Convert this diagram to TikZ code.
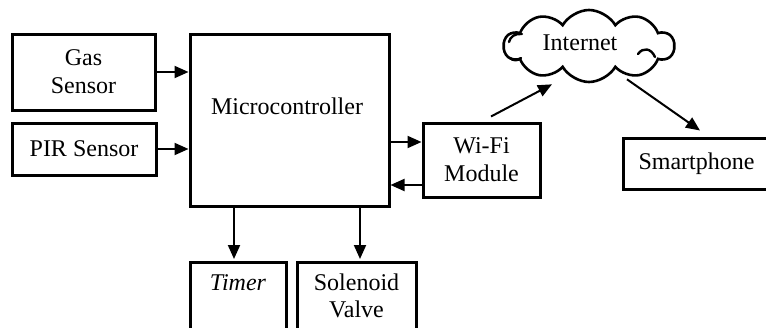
\documentclass[tikz,border=0pt]{standalone}
\usepackage{fontspec}
\setmainfont{Liberation Serif}
\usetikzlibrary{arrows.meta,shapes.symbols}
\begin{document}
\begin{tikzpicture}[x=1pt,y=-1pt,
  box/.style={draw,line width=3pt,inner sep=0pt,align=center,font=\fontsize{24}{28}\selectfont},
  lbl/.style={inner sep=0pt,font=\fontsize{24}{28}\selectfont},
  arr/.style={line width=2pt,-{Triangle[length=14pt,width=12pt]}},
  puff/.style={line width=2.4pt,line cap=round}]
\clip (0,0) rectangle (766,327);
\useasboundingbox (0,0) rectangle (766,327);
\fill[white] (0,0) rectangle (766,327);
% boxes
\node[box,minimum width=143,minimum height=76] (gas) at (83.5,72) {Gas\\Sensor};
\node[box,minimum width=144,minimum height=52] (pir) at (84,149) {PIR Sensor};
\node[box,minimum width=199,minimum height=172] (micro) at (289.5,120) {};
\node[lbl] (mlabel) at (287,106) {Microcontroller};
\node[box,minimum width=117,minimum height=74] (wifi) at (481.5,160) {Wi-Fi\\Module};
\node[box,minimum width=147,minimum height=51] (phone) at (696.5,163.5) {Smartphone};
\node[box,minimum width=96,minimum height=100,anchor=north] (timer) at (238,261) {};
\node[box,minimum width=119,minimum height=100,anchor=north] (valve) at (356.5,261) {};
\node[lbl,anchor=base,font=\fontsize{24}{28}\selectfont\itshape] (tlabel) at ([yshift=-29pt]timer.north) {Timer};
\node[lbl,anchor=base] (vlabel1) at ([yshift=-29pt]valve.north) {Solenoid};
\node[lbl,anchor=base] (vlabel2) at ([yshift=-56pt]valve.north) {Valve};
\node[cloud,draw,line width=2.6pt,cloud puffs=10,cloud puff arc=120,cloud ignores aspect,
  minimum width=170,minimum height=72,inner sep=0pt] (cloud) at (589,46) {};
\node[lbl] (clabel) at (580,43) {Internet};
% inner puff strokes of the cloud
\draw[puff] (522,34) .. controls (515,33) and (510,37) .. (509,42);
\draw[puff] (510,58) .. controls (513,61) and (518,61) .. (521,58);
\draw[puff] (638,54) .. controls (643,47) and (651,48) .. (655,57);
% connectors
\draw[arr] (gas.east) -- (gas.east -| micro.west);
\draw[arr] (pir.east) -- (pir.east -| micro.west);
\coordinate (w1) at ([yshift=18pt]wifi.west);
\coordinate (w2) at ([yshift=-25pt]wifi.west);
\draw[arr] (w1 -| micro.east) -- (w1);
\draw[arr] (w2) -- (w2 -| micro.east);
\coordinate (t1) at ([xshift=-4pt]timer.north);
\coordinate (v1) at ([xshift=3.5pt]valve.north);
\draw[arr,shorten >=2pt] (t1 |- micro.south) -- (t1);
\draw[arr,shorten >=2pt] (v1 |- micro.south) -- (v1);
\coordinate (c1) at ([xshift=9.5pt,yshift=5pt]wifi.north);
\coordinate (c2) at ([xshift=-37pt,yshift=-1pt]cloud.south);
\draw[arr] (c1) -- (c2);
\coordinate (c3) at ([xshift=38pt,yshift=4pt]cloud.south);
\coordinate (p1) at ([xshift=3.5pt,yshift=6pt]phone.north);
\draw[arr] (c3) -- (p1);
\end{tikzpicture}
\end{document}
